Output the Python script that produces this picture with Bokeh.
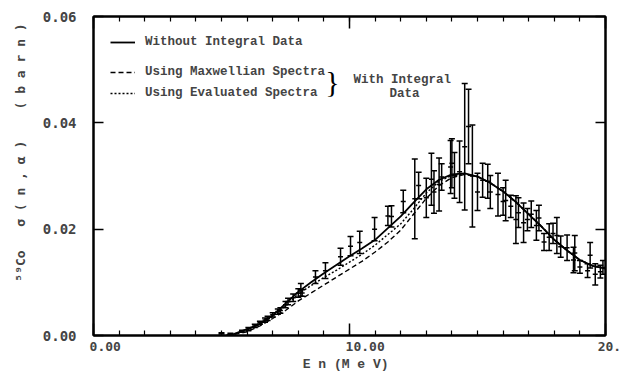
from bokeh.plotting import figure
from bokeh.models import (Range1d, LinearAxis, FixedTicker, ColumnDataSource, Whisker,
                          TeeHead, Legend, LegendItem, Label, NumeralTickFormatter)
from bokeh.embed import file_html
from bokeh.resources import INLINE

# ---- data ----
E_curve = [5.2, 5.5, 6.0, 6.5, 7.0, 7.5, 8.0, 8.5, 9.0, 9.5, 10.0, 10.5, 11.0, 11.5, 12.0,
           12.5, 13.0, 13.5, 14.0, 14.5, 15.0, 15.5, 16.0, 16.5, 17.0, 17.5, 18.0, 18.5,
           19.0, 19.5, 20.0]
sig_without = [0.0, 0.0003, 0.0012, 0.0022, 0.0038, 0.0060, 0.0082, 0.0100, 0.0117, 0.0133,
               0.0149, 0.0164, 0.0180, 0.0202, 0.0224, 0.0250, 0.0275, 0.0293, 0.0303, 0.0305,
               0.0299, 0.0287, 0.0271, 0.0251, 0.0228, 0.0205, 0.0180, 0.0160, 0.0142, 0.0131,
               0.0126]
sig_maxwell = [0.0, 0.0002, 0.0007, 0.0018, 0.0032, 0.0047, 0.0065, 0.0080, 0.0095, 0.0110,
               0.0125, 0.0140, 0.0157, 0.0176, 0.0198, 0.0228, 0.0258, 0.0282, 0.0297, 0.0303,
               0.0299, 0.0287, 0.0271, 0.0251, 0.0228, 0.0205, 0.0180, 0.0160, 0.0142, 0.0131,
               0.0126]
sig_evaluated = [0.0, 0.0003, 0.0010, 0.0021, 0.0036, 0.0056, 0.0078, 0.0094, 0.0109, 0.0123,
                 0.0138, 0.0153, 0.0170, 0.0190, 0.0210, 0.0238, 0.0268, 0.0290, 0.0301, 0.0304,
                 0.0299, 0.0287, 0.0271, 0.0251, 0.0228, 0.0205, 0.0180, 0.0160, 0.0142, 0.0131,
                 0.0126]

E_exp = [5.0, 5.35, 5.8, 6.05, 6.3, 6.5, 6.7, 6.8, 7.0, 7.2, 7.3, 7.5, 7.6, 7.8, 8.0, 8.1, 8.15,
         8.67, 9.06, 9.65, 10.04, 10.4, 10.98, 11.5, 11.64,
         12.1, 12.55, 12.7, 13.0, 13.2, 13.3, 13.5, 13.6, 13.95, 14.0, 14.1, 14.3, 14.5, 14.65,
         14.8, 15.0, 15.2, 15.4, 15.5, 15.8, 16.0, 16.1, 16.3, 16.5, 16.6, 16.8, 16.95, 17.1,
         17.3, 17.4, 17.6, 17.8, 17.95, 18.1, 18.25, 18.5, 18.75, 18.8, 19.0, 19.3, 19.4, 19.6,
         19.8, 19.9]
sig_exp = [0.0004, 0.0003, 0.0008, 0.0012, 0.0018, 0.0024, 0.0029, 0.0032, 0.0039, 0.0045,
           0.0047, 0.0058, 0.0064, 0.0071, 0.0080, 0.0086, 0.0080,
           0.0110, 0.0122, 0.0148, 0.0168, 0.0175, 0.0200, 0.0225, 0.0224,
           0.0252, 0.0257, 0.0282, 0.0259, 0.0294, 0.0270, 0.0284, 0.0298, 0.0317, 0.0324,
           0.0301, 0.0308, 0.0355, 0.0393, 0.0300, 0.0270, 0.0292, 0.0290, 0.0270, 0.0265,
           0.0252, 0.0254, 0.0243, 0.0218, 0.0231, 0.0212, 0.0218, 0.0228, 0.0207, 0.0221,
           0.0176, 0.0185, 0.0192, 0.0188, 0.0167, 0.0165, 0.0142, 0.0155, 0.0129, 0.0122,
           0.0151, 0.0115, 0.0120, 0.0128]
err_exp = [0.0001, 0.0001, 0.0002, 0.0003, 0.0003, 0.0003, 0.0004, 0.0004, 0.0004, 0.0005,
           0.0005, 0.0006, 0.0006, 0.0007, 0.0008, 0.0012, 0.0006,
           0.0012, 0.0015, 0.0016, 0.0018, 0.0021, 0.0022, 0.0018, 0.0020,
           0.0021, 0.0075, 0.0025, 0.0037, 0.0049, 0.0040, 0.0050, 0.0025, 0.0050, 0.0046,
           0.0043, 0.0058, 0.0119, 0.0070, 0.0096, 0.0035, 0.0032, 0.0032, 0.0031, 0.0040,
           0.0026, 0.0038, 0.0021, 0.0045, 0.0028, 0.0037, 0.0021, 0.0025, 0.0028, 0.0024,
           0.0016, 0.0025, 0.0019, 0.0034, 0.0020, 0.0024, 0.0024, 0.0033, 0.0012, 0.0013,
           0.0024, 0.0020, 0.0012, 0.0013]

NB = "\u00a0"
x_ticks = [0, 10, 20]
x_minor = list(range(0, 21))
x_labels = {0: NB * 3 + "0.00", 10: NB * 4 + "10.00", 20: NB + "20."}
y_ticks = [0.0, 0.02, 0.04, 0.06]

legend_labels = ["Without Integral Data", "Using Maxwellian Spectra", "Using Evaluated Spectra"]
x_title = "E n  (M e V)"
y_title = (NB * 6 + "\u2075\u2079Co" + NB * 3 + "\u03c3 ( n , \u03b1 )" + NB * 4 + "( b a r n )")

MONO = "DejaVu Sans Mono"
TYPE = "Liberation Mono"

p = figure(width=626, height=374, x_range=Range1d(0, 20), y_range=Range1d(0, 0.06),
           output_backend="svg", toolbar_location=None,
           x_axis_location=None, y_axis_location=None,
           min_border_left=93, min_border_right=21, min_border_top=16, min_border_bottom=39)
p.outline_line_color = "black"
p.outline_line_width = 2
p.background_fill_color = "white"
p.border_fill_color = "white"

def hide_labels(ax):
    ax.major_label_text_font_size = "1px"
    ax.major_label_text_color = None
    ax.major_label_standoff = 0

def style_x(ax):
    ax.ticker = FixedTicker(ticks=x_ticks, minor_ticks=x_minor)
    ax.major_tick_in = 12
    ax.major_tick_out = 0
    ax.minor_tick_in = 5
    ax.minor_tick_out = 0
    ax.major_tick_line_width = 1.5
    ax.minor_tick_line_width = 1.2
    ax.axis_line_width = 2

def style_y(ax):
    ax.ticker = FixedTicker(ticks=y_ticks)
    ax.formatter = NumeralTickFormatter(format="0.00")
    ax.major_tick_in = 10
    ax.major_tick_out = 0
    ax.minor_tick_line_color = None
    ax.major_tick_line_width = 1.5
    ax.axis_line_width = 2

xb = LinearAxis()
style_x(xb)
xb.major_label_overrides = x_labels
xb.major_label_text_font = MONO
xb.major_label_text_font_style = "bold"
xb.major_label_text_font_size = "13px"
xb.major_label_standoff = 3
xb.axis_label = x_title
xb.axis_label_text_font = TYPE
xb.axis_label_text_font_style = "bold"
xb.axis_label_text_font_size = "13px"
xb.axis_label_standoff = 0
p.add_layout(xb, "below")

xt = LinearAxis()
style_x(xt)
hide_labels(xt)
p.add_layout(xt, "above")

yl = LinearAxis()
style_y(yl)
yl.major_label_text_font = MONO
yl.major_label_text_font_style = "bold"
yl.major_label_text_font_size = "14px"
yl.major_label_standoff = 17
yl.axis_label = y_title
yl.axis_label_text_font = MONO
yl.axis_label_text_font_style = "bold"
yl.axis_label_text_font_size = "13px"
yl.axis_label_standoff = 12
p.add_layout(yl, "left")

yr = LinearAxis()
style_y(yr)
hide_labels(yr)
p.add_layout(yr, "right")

for g in p.renderers:
    pass
p.xgrid.visible = False
p.ygrid.visible = False

# curves
r1 = p.line(E_curve, sig_without, line_color="black", line_width=1.8)
r2 = p.line(E_curve, sig_maxwell, line_color="black", line_width=1.4, line_dash="5 3")
r3 = p.line(E_curve, sig_evaluated, line_color="black", line_width=1.4, line_dash="2 2")

# data with error bars
lower = [s - e for s, e in zip(sig_exp, err_exp)]
upper = [s + e for s, e in zip(sig_exp, err_exp)]
src = ColumnDataSource(dict(x=E_exp, y=sig_exp, lower=lower, upper=upper))
w = Whisker(source=src, base="x", lower="lower", upper="upper", line_color="black",
            line_width=1.5,
            upper_head=TeeHead(size=6, line_color="black", line_width=1.5),
            lower_head=TeeHead(size=6, line_color="black", line_width=1.5))
p.add_layout(w)
p.scatter("x", "y", source=src, marker="dash", size=5, line_color="black", line_width=1.5)

# legends
def mk_legend(items, loc, spacing):
    lg = Legend(items=items, location=loc, orientation="vertical",
                background_fill_alpha=0, border_line_color=None,
                padding=0, margin=0, spacing=spacing,
                glyph_width=25, glyph_height=20, label_height=20, label_standoff=10,
                label_text_font=TYPE, label_text_font_style="bold",
                label_text_font_size="12.5px")
    p.add_layout(lg, "center")

mk_legend([LegendItem(label=legend_labels[0], renderers=[r1])], (17, 283), 0)
mk_legend([LegendItem(label=legend_labels[1], renderers=[r2]),
           LegendItem(label=legend_labels[2], renderers=[r3])], (17, 232), 1)

p.add_layout(Label(x=9.05, y=0.0478, text="}", text_font="Liberation Serif",
                   text_font_size="30px", text_baseline="middle", text_align="left",
                   text_color="black"))
p.add_layout(Label(x=10.16, y=0.0481, text="With Integral", text_font=TYPE,
                   text_font_style="bold", text_font_size="12.5px",
                   text_baseline="middle", text_align="left"))
p.add_layout(Label(x=11.56, y=0.0455, text="Data", text_font=TYPE,
                   text_font_style="bold", text_font_size="12.5px",
                   text_baseline="middle", text_align="left"))

open("out.html", "w").write(file_html(p, INLINE))
